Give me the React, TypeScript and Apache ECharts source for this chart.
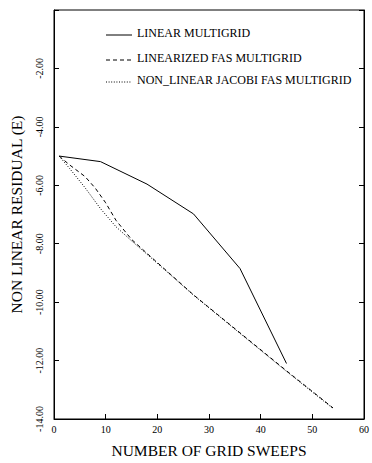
import React, { useEffect, useRef } from "react";
import * as echarts from "echarts";

const seriesNames = [
  "LINEAR MULTIGRID",
  "LINEARIZED FAS MULTIGRID",
  "NON_LINEAR JACOBI FAS MULTIGRID",
];
const linearMG: [number, number][] = [
  [1, -5.0], [9, -5.19], [18, -5.96], [27, -6.98], [36, -8.85], [45, -12.1],
];
const linearizedFAS: [number, number][] = [
  [1, -5.0], [3, -5.3], [6, -5.7], [8, -6.1], [10, -6.6], [12, -7.2], [15, -7.85],
  [18, -8.33], [27, -9.75], [36, -11.05], [45, -12.35], [54, -13.62],
];
const jacobiFAS: [number, number][] = [
  [1, -5.0], [3, -5.42], [6, -6.08], [9, -6.8], [12, -7.42], [15, -7.9],
  [18, -8.36], [27, -9.76], [36, -11.07], [45, -12.37], [54, -13.64],
];
const lineTypes: any[] = ["solid", [4, 3], [1, 1.6]];
const xTitle = "NUMBER OF GRID SWEEPS";
const yTitle = "NON LINEAR RESIDUAL (E)";

const FONT = "Liberation Serif, DejaVu Serif, serif";

export default function App() {
  const ref = useRef<HTMLDivElement>(null);
  useEffect(() => {
    if (!ref.current) return;
    const chart = echarts.init(ref.current, null, { renderer: "svg" });
    const data = [linearMG, linearizedFAS, jacobiFAS];
    const legendY = [33, 58, 80];
    const graphic: any[] = [];
    seriesNames.forEach((n, i) => {
      graphic.push({
        type: "line",
        shape: { x1: 106, y1: legendY[i] + 2, x2: 132, y2: legendY[i] + 2 },
        style: { stroke: "#000", lineWidth: 1, lineDash: i === 0 ? null : lineTypes[i] },
      });
      graphic.push({
        type: "text",
        x: 137,
        y: legendY[i],
        style: {
          text: n,
          fill: "#000",
          font: `12px ${FONT}`,
          verticalAlign: "middle",
          align: "left",
        },
      });
    });
    chart.setOption({
      animation: false,
      textStyle: { fontFamily: FONT, color: "#000" },
      grid: {
        left: 54,
        top: 10,
        right: 3,
        bottom: 34,
        show: true,
        borderColor: "#000",
        borderWidth: 1,
        containLabel: false,
      },
      xAxis: {
        type: "value",
        min: 0,
        max: 60,
        interval: 10,
        name: xTitle,
        nameLocation: "middle",
        nameGap: 23,
        nameTextStyle: { fontFamily: FONT, fontSize: 15.5, color: "#000", verticalAlign: "top" },
        axisLine: { show: true, onZero: false, lineStyle: { color: "#000", width: 1 } },
        axisTick: { show: true, inside: true, length: 5, lineStyle: { color: "#000" } },
        axisLabel: { fontFamily: FONT, fontSize: 10, color: "#000", margin: 5 },
        splitLine: { show: false },
      },
      yAxis: [
        {
          type: "value",
          min: -14,
          max: 0,
          interval: 2,
          name: yTitle,
          nameLocation: "middle",
          nameRotate: 90,
          nameGap: 30,
          nameTextStyle: { fontFamily: FONT, fontSize: 15.5, color: "#000" },
          axisLine: { show: true, onZero: false, lineStyle: { color: "#000", width: 1 } },
          axisTick: { show: true, inside: true, length: 5, lineStyle: { color: "#000" } },
          axisLabel: {
            fontFamily: FONT,
            fontSize: 10,
            color: "#000",
            rotate: 90,
            margin: 10,
            align: "center",
            verticalAlign: "bottom",
            formatter: (v: number) => (v === 0 ? "" : v.toFixed(2)),
          },
          splitLine: { show: false },
        },
        {
          type: "value",
          position: "right",
          min: -14,
          max: 0,
          interval: 2,
          axisLine: { show: true, onZero: false, lineStyle: { color: "#000", width: 1 } },
          axisTick: { show: true, inside: true, length: 5, lineStyle: { color: "#000" } },
          axisLabel: { show: false },
          splitLine: { show: false },
        },
      ],
      series: data.map((d, i) => ({
        name: seriesNames[i],
        type: "line",
        data: d,
        showSymbol: false,
        symbol: "none",
        lineStyle: { color: "#000", width: 1, type: lineTypes[i] },
        itemStyle: { color: "#000" },
      })),
      graphic,
    });
    return () => chart.dispose();
  }, []);
  return (
    <div
      ref={ref}
      style={{ position: "absolute", left: 0, top: 0, width: 372, height: 463 }}
    />
  );
}
